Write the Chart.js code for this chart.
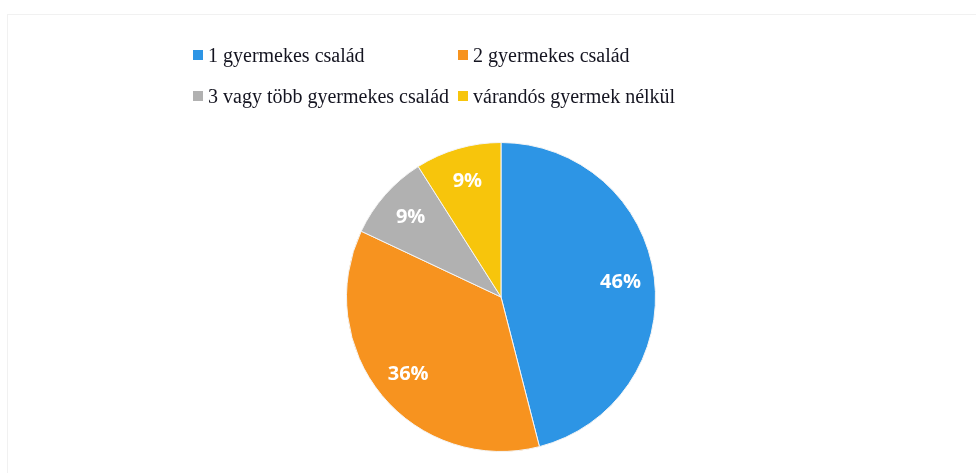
<!DOCTYPE html>
<html lang="hu">
<head>
<meta charset="utf-8">
<title>Családok megoszlása</title>
<script src="https://cdn.jsdelivr.net/npm/chart.js@4"></script>
<style>
    html, body { margin: 0; padding: 0; background: #fff; }
    .wrap { position: relative; width: 976px; height: 473px; overflow: hidden; }
    .frame { position: absolute; left: 7px; top: 14px; right: -2px; bottom: -2px; border: 1px solid #f1f1f1; }
    canvas { position: absolute; left: 0; top: 0; }
    .legend {
        position: absolute; left: 193px; top: 42px;
        display: grid; grid-template-columns: 265px 280px; row-gap: 15px;
        font-family: "Liberation Serif", "Times New Roman", serif; font-size: 20px; color: #141420;
    }
    .legend div { display: flex; align-items: center; height: 26px; white-space: nowrap; }
    .legend span.box { width: 10px; height: 10px; margin-right: 5px; display: inline-block; }
</style>
</head>
<body>
<div class="wrap">
    <div class="frame"></div>
    <canvas id="pieChart" width="976" height="473"></canvas>
    <div class="legend" id="legend"></div>
</div>
<script>
// --- Data ---
const categories = ['1 gyermekes család', '2 gyermekes család', '3 vagy több gyermekes család', 'várandós gyermek nélkül'];
const shares = [46, 36, 9, 9];
const colors = ['#2d95e5', '#f7931f', '#b1b1b1', '#f7c50c'];

// White percentage labels inside the slices
const sliceLabels = {
    id: 'sliceLabels',
    afterDatasetsDraw(chart) {
        const ctx = chart.ctx;
        const meta = chart.getDatasetMeta(0);
        ctx.save();
        ctx.fillStyle = '#ffffff';
        ctx.font = 'bold 20px "Open Sans", "Liberation Sans", sans-serif';
        ctx.textAlign = 'center';
        ctx.textBaseline = 'middle';
        meta.data.forEach((arc, i) => {
            const p = arc.getProps(['x', 'y', 'startAngle', 'endAngle', 'outerRadius'], true);
            const mid = (p.startAngle + p.endAngle) / 2;
            const r = p.outerRadius * 0.78;
            ctx.fillText(shares[i] + '%', p.x + Math.cos(mid) * r, p.y + Math.sin(mid) * r);
        });
        ctx.restore();
    }
};

const chart = new Chart(document.getElementById('pieChart'), {
    type: 'pie',
    data: {
        labels: categories,
        datasets: [{
            data: shares,
            backgroundColor: colors,
            borderColor: '#f4f4f4',
            borderWidth: 1
        }]
    },
    options: {
        responsive: false,
        animation: false,
        layout: { padding: { top: 142, bottom: 21, left: 346, right: 320 } },
        plugins: {
            legend: { display: false },
            tooltip: { enabled: false }
        }
    },
    plugins: [sliceLabels]
});

// --- HTML legend, two columns ---
const legend = document.getElementById('legend');
categories.forEach((name, i) => {
    const item = document.createElement('div');
    item.innerHTML = `<span class="box" style="background:${colors[i]}"></span>${name}`;
    legend.appendChild(item);
});
</script>
</body>
</html>
